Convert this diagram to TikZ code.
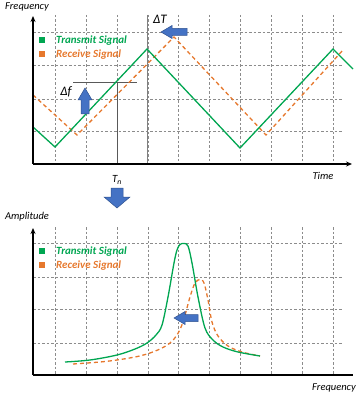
\documentclass[tikz,border=0pt]{standalone}
\usepackage{fontspec}
\setmainfont{Carlito}
\usetikzlibrary{arrows.meta}
\definecolor{tgreen}{RGB}{0,166,81}
\definecolor{rorange}{RGB}{230,120,45}
\definecolor{ablue}{RGB}{68,114,196}
\definecolor{ablued}{RGB}{47,82,143}
\definecolor{gridc}{RGB}{140,140,140}
\tikzset{
  gridline/.style={gridc, line width=0.6pt, dash pattern=on 2.5pt off 2pt},
  axisline/.style={black, line width=1.6pt},
  txline/.style={tgreen, line width=1.3pt, line join=miter},
  rxline/.style={rorange, line width=1.3pt, dash pattern=on 4pt off 3pt},
  blockarrow/.style={fill=ablue, draw=ablued, line width=0.5pt},
  lbl/.style={font=\fontsize{10.5}{12}\selectfont\itshape, inner sep=0pt},
  biglbl/.style={font=\fontsize{13}{14}\selectfont\itshape, inner sep=0pt},
  legtx/.style={font=\fontsize{11}{12}\selectfont\bfseries\itshape, inner sep=0pt, anchor=west},
  legsq/.style={minimum size=6pt, inner sep=0pt},
}
\begin{document}
\begin{tikzpicture}[x=1pt,y=-1pt]
\useasboundingbox (0,0) rectangle (363,395);
% ---------------- top chart ----------------
\foreach \x in {55,86,117,148,178,209,240,271,302,333}
  \draw[gridline] (\x,15) -- (\x,164);
\foreach \y in {32,65,99,131}
  \draw[gridline] (33,\y) -- (343,\y);
% Tn and Delta T markers
\draw[gray!70!black, line width=0.8pt] (117,82) -- (117,164);
\draw[gray, line width=0.8pt] (147,15) -- (147,164);
\draw[gray!70!black, line width=0.7pt] (73,82) -- (137,82);
% signals
\draw[rxline] (33,95) -- (77,135) -- (174,37) -- (266,135) -- (343,50);
\draw[txline] (33,127) -- (55,147) -- (147,49) -- (240,148) -- (333,49) -- (353,69);
% axes
\coordinate (o1) at (33,164);
\coordinate (ytop1) at (33,16);
\coordinate (xend1) at (352,164);
\draw[axisline, -{Stealth[length=6pt,width=5pt]}] (o1) -- (ytop1);
\draw[axisline, -{Stealth[length=6pt,width=5pt]}] (o1) -- (xend1);
\node[lbl] (freqlbl) at (27,7) {Frequency};
\node[lbl] (timelbl) at (323,176) {Time};
% legend top
\node[legsq, fill=tgreen] (sq1) at (42,40) {};
\node[legtx, text=tgreen] (lt1) at (56,41) {Transmit Signal};
\node[legsq, fill=rorange] (sq2) at (42,54) {};
\node[legtx, text=rorange] (lr1) at (56,55) {Receive Signal};
% delta f
\node[biglbl] (df) at (66,92) {Δf};
\draw[blockarrow] (81,114) -- (81,100) -- (78,100) -- (85,88) -- (92,100) -- (89,100) -- (89,114) -- cycle;
% delta T
\node[biglbl] (dT) at (160,19) {ΔT};
\draw[blockarrow] (187,28.5) -- (172,28.5) -- (172,25.5) -- (161,32) -- (172,38.5) -- (172,35.5) -- (187,35.5) -- cycle;
% Tn
\node[biglbl, font=\fontsize{11}{12}\selectfont\itshape] (tn) at (117,180) {T\textsubscript{n}};
% big down arrow
\draw[blockarrow] (111,188) -- (123,188) -- (123,197) -- (130,197) -- (117,208) -- (104,197) -- (111,197) -- cycle;
% ---------------- bottom chart ----------------
\foreach \x in {55,86,117,148,178,209,240,271,302,333}
  \draw[gridline] (\x,227) -- (\x,375);
\foreach \y in {243,277,309,343}
  \draw[gridline] (33,\y) -- (343,\y);
\draw[rxline] plot[smooth, tension=0.55] coordinates {(73,364) (100,362) (117,360) (135,357) (147,354) (160,349) (170,343) (177,335) (183,322) (190,297) (195,283) (200,279.5) (204,283) (208,300) (212,322) (218,336) (228,346) (242,352) (260,356)};
\draw[txline] plot[smooth, tension=0.55] coordinates {(65,362) (90,360) (117,355) (135,349) (147,343) (156,335) (162,325) (168,297) (174,263) (177,250) (180,244.5) (184,243.5) (188,246) (192,263) (198,297) (205,328) (213,340) (223,347) (238,352) (260,356)};
\draw[blockarrow] (198,314.5) -- (185,314.5) -- (185,311.5) -- (174,318) -- (185,324.5) -- (185,321.5) -- (198,321.5) -- cycle;
\coordinate (o2) at (33,375);
\coordinate (ytop2) at (33,228);
\coordinate (xend2) at (353,375);
\draw[axisline, -{Stealth[length=6pt,width=5pt]}] (o2) -- (ytop2);
\draw[axisline] (o2) -- (xend2);
\node[lbl] (amplbl) at (27,217) {Amplitude};
\node[lbl] (freqlbl2) at (334,388) {Frequency};
\node[legsq, fill=tgreen] (sq3) at (42,251) {};
\node[legtx, text=tgreen] (lt2) at (56,252) {Transmit Signal};
\node[legsq, fill=rorange] (sq4) at (42,265) {};
\node[legtx, text=rorange] (lr2) at (56,266) {Receive Signal};
\end{tikzpicture}
\end{document}
